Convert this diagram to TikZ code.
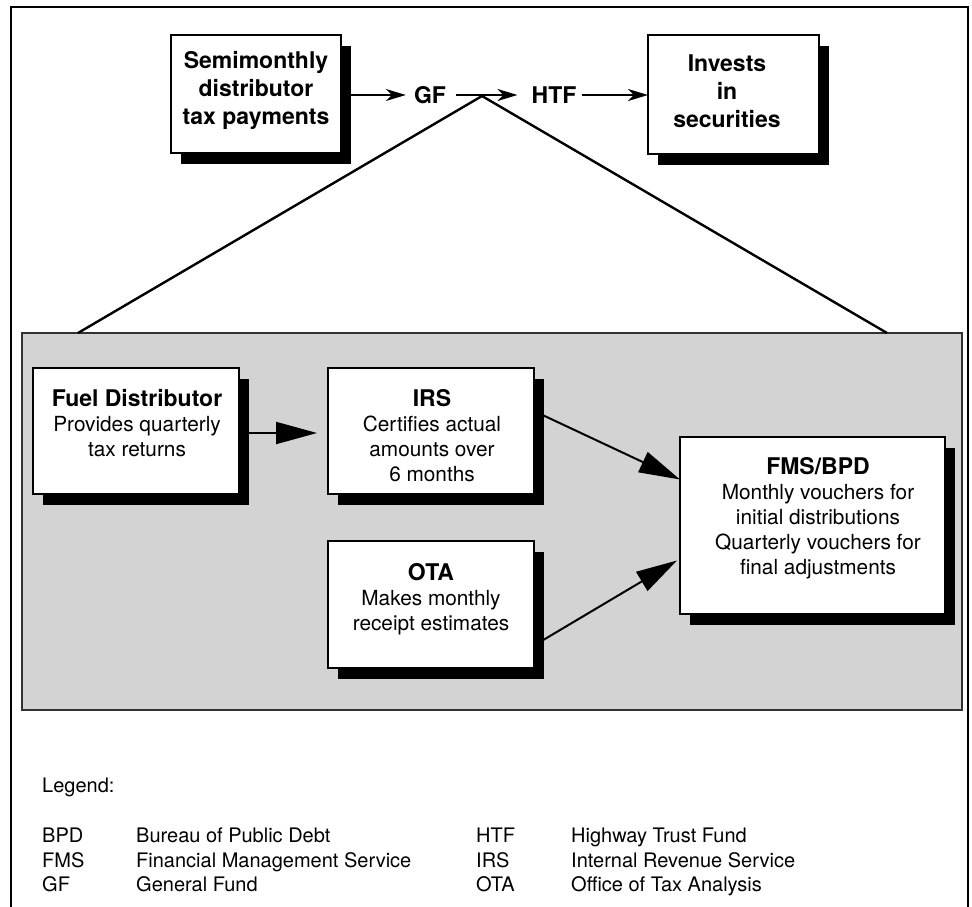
\documentclass[tikz,border=0pt]{standalone}
\usepackage{fontspec}
\setmainfont{TeX Gyre Heros}
\usetikzlibrary{arrows.meta,shadows}
\definecolor{panel}{RGB}{211,211,211}
\definecolor{panelline}{RGB}{50,50,50}
\newcommand{\ttl}[1]{{\bfseries\fontsize{23}{25}\selectfont #1}}
\tikzset{
  box/.style={draw=black, line width=1.4pt, fill=white, inner sep=0pt, outer sep=0pt,
    anchor=north west,
    drop shadow={shadow xshift=10pt, shadow yshift=-11pt, fill=black, opacity=1}},
  greybox/.style={draw=panelline, line width=1.4pt, fill=panel, inner sep=0pt, outer sep=0pt,
    anchor=north west},
  toptxt/.style={align=center, inner sep=0pt, font=\bfseries\fontsize{23}{28}\selectfont},
  boxtxt/.style={align=center, inner sep=0pt, font=\fontsize{20.8}{25}\selectfont},
  legtxt/.style={inner sep=0pt, anchor=base west, font=\fontsize{20}{24}\selectfont},
  toparrow/.style={line width=2.2pt, -{Stealth[length=20pt,width=12pt,inset=6pt]}},
  bigarrow/.style={line width=2pt, -{Triangle[length=41pt,width=22pt]}},
  vline/.style={line width=2.4pt},
}
\begin{document}
\begin{tikzpicture}[x=1pt,y=-1pt]
\useasboundingbox (0,0) rectangle (972,907);
\clip (0,0) rectangle (972,907);
\fill[white] (0,0) rectangle (972,907);
% outer frame
\draw[line width=2.5pt] (11,930) -- (11,7) -- (968,7) -- (968,930);

% grey panel
\node[greybox, minimum width=940pt, minimum height=377pt] (grey) at (22,333) {};

% top row
\node[box, minimum width=170pt, minimum height=118pt] (semi) at (171,35) {};
\node[box, minimum width=171pt, minimum height=119pt] (inv) at (648,35) {};
\node[toptxt] (semit) at (256,90) {Semimonthly\\distributor\\tax payments};
\node[toptxt] (invt) at (727,91) {Invests\\in\\securities};
\node[toptxt] (gf) at (430,95) {GF};
\node[toptxt] (htf) at (554,95) {HTF};

\draw[toparrow] (semi.east |- gf.center) -- ([xshift=-8pt]gf.west);
\draw[toparrow] ([xshift=10pt]gf.east) -- ([xshift=-14pt]htf.west);
\draw[toparrow] ([xshift=5pt]htf.east) -- (inv.west |- htf.center);

\coordinate (apex) at (482,96);
\draw[vline] (apex) -- ([xshift=56pt]grey.north west);
\draw[vline] (apex) -- ([xshift=-75pt]grey.north east);

% lower boxes
\node[box, minimum width=206pt, minimum height=126pt] (fuel) at (33,368) {};
\node[box, minimum width=206pt, minimum height=126pt] (irs) at (328,368) {};
\node[box, minimum width=206pt, minimum height=127pt] (ota) at (328,541) {};
\node[box, minimum width=265pt, minimum height=177pt] (fms) at (680,437) {};

\node[boxtxt] (fuelt) at (137,423) {\ttl{Fuel Distributor}\\Provides quarterly\\tax returns};
\node[boxtxt] (irst) at (432,436) {\ttl{IRS}\\Certifies actual\\amounts over\\6 months};
\node[boxtxt] (otat) at (431,599) {\ttl{OTA}\\Makes monthly\\receipt estimates};
\node[boxtxt] (fmst) at (818,518) {\ttl{FMS/BPD}\\Monthly vouchers for\\initial distributions\\Quarterly vouchers for\\final adjustments};

\draw[bigarrow] ([yshift=-2pt]fuel.east) -- ([xshift=-11pt,yshift=-2pt]irs.west);
\draw[bigarrow] ([yshift=20pt]irs.east) -- ([yshift=46pt]fms.west);
\draw[bigarrow] ([yshift=-41pt]ota.east) -- ([xshift=-3pt,yshift=-35pt]fms.west);

% legend
\node[legtxt] (leg) at (42,792) {Legend:};
\node[legtxt] (a1) at (42,842) {BPD};
\node[legtxt] (b1) at (136,842) {Bureau of Public Debt};
\node[legtxt] (a2) at (42,867) {FMS};
\node[legtxt] (b2) at (136,867) {Financial Management Service};
\node[legtxt] (a3) at (42,891) {GF};
\node[legtxt] (b3) at (136,891) {General Fund};
\node[legtxt] (c1) at (476,842) {HTF};
\node[legtxt] (d1) at (571,842) {Highway Trust Fund};
\node[legtxt] (c2) at (476,867) {IRS};
\node[legtxt] (d2) at (571,867) {Internal Revenue Service};
\node[legtxt] (c3) at (476,891) {OTA};
\node[legtxt] (d3) at (571,891) {Office of Tax Analysis};
\end{tikzpicture}
\end{document}
